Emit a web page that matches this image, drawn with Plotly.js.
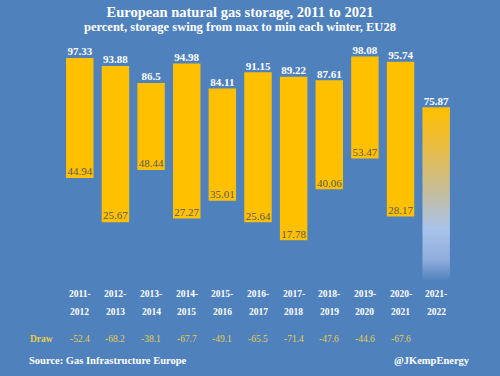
<!DOCTYPE html>
<html>
<head>
<meta charset="utf-8">
<script src="https://cdn.plot.ly/plotly-3.0.1.min.js"></script>
<style>html,body{margin:0;padding:0;background:#4F81BD;}#chart{width:500px;height:376px;}</style>
</head>
<body>
<div id="chart"></div>
<script>
// ---- data ----
var seasonTop = ["2011-","2012-","2013-","2014-","2015-","2016-","2017-","2018-","2019-","2020-","2021-"];
var seasonBottom = ["2012","2013","2014","2015","2016","2017","2018","2019","2020","2021","2022"];
var maxStorage = [97.33, 93.88, 86.5, 94.98, 84.11, 91.15, 89.22, 87.61, 98.08, 95.74];
var minStorage = [44.94, 25.67, 48.44, 27.27, 35.01, 25.64, 17.78, 40.06, 53.47, 28.17];
var drawLabels = ["-52.4","-68.2","-38.1","-67.7","-49.1","-65.5","-71.4","-47.6","-44.6","-67.6"];
var currentSeasonMax = 75.87;

// ---- styling ----
var BG = "#4F81BD";
var BAR = "#FFC000";
var SERIF = "Liberation Serif";
var BAR_W = 0.77;

var idx = seasonTop.map(function(_, i){ return i; });
var histIdx = maxStorage.map(function(_, i){ return i; });
var lastI = seasonTop.length - 1;

var traces = [];
// floating bars max->min
traces.push({
  type: "bar",
  x: histIdx,
  y: maxStorage.map(function(v, i){ return v - minStorage[i]; }),
  base: minStorage,
  width: BAR_W,
  marker: {color: BAR, line: {width: 0}},
  hoverinfo: "skip",
  showlegend: false
});
// gradient current-season bar
var h = BAR_W / 2;
traces.push({
  type: "scatter",
  mode: "lines",
  x: [lastI - h, lastI + h, lastI + h, lastI - h, lastI - h],
  y: [0, 0, currentSeasonMax, currentSeasonMax, 0],
  fill: "toself",
  line: {width: 0, color: "rgba(0,0,0,0)"},
  fillgradient: {
    type: "vertical",
    colorscale: [[0, BG], [0.12, "#8FACDB"], [0.3, "#A9C3EB"], [0.55, "#C9BC8E"], [0.8, "#EDBD3A"], [1, BAR]]
  },
  hoverinfo: "skip",
  showlegend: false
});
// max labels
traces.push({
  type: "scatter",
  mode: "text",
  x: idx,
  y: maxStorage.concat([currentSeasonMax]),
  text: maxStorage.concat([currentSeasonMax]).map(String),
  textposition: "top center",
  textfont: {family: SERIF, size: 11, color: "#FFFFFF", weight: "bold"},
  cliponaxis: false,
  hoverinfo: "skip",
  showlegend: false
});
// min labels
traces.push({
  type: "scatter",
  mode: "text",
  x: histIdx,
  y: minStorage,
  text: minStorage.map(String),
  textposition: "top center",
  textfont: {family: SERIF, size: 11, color: "#595959"},
  cliponaxis: false,
  hoverinfo: "skip",
  showlegend: false
});

var annotations = [];
idx.forEach(function(i){
  annotations.push({x: i, xref: "x", y: 294, yref: "paper", text: seasonTop[i], showarrow: false,
    font: {family: SERIF, size: 9.5, color: "#FFFFFF", weight: "bold"}, yanchor: "middle", xanchor: "center"});
  annotations.push({x: i, xref: "x", y: 312, yref: "paper", text: seasonBottom[i], showarrow: false,
    font: {family: SERIF, size: 9.5, color: "#FFFFFF", weight: "bold"}, yanchor: "middle", xanchor: "center"});
});
drawLabels.forEach(function(t, i){
  annotations.push({x: i, xref: "x", y: 339, yref: "paper", text: t, showarrow: false,
    font: {family: SERIF, size: 9.5, color: "#E6CF4B"}, yanchor: "middle", xanchor: "center"});
});
annotations.push({x: 41, xref: "pixel", y: 339, yref: "paper", text: "Draw", showarrow: false,
  font: {family: SERIF, size: 9.5, color: "#E6CF4B", weight: "bold"}, yanchor: "middle", xanchor: "center"});

// convert pixel y to paper coords
var T = 52, B = 95, H = 376;
var plotH = H - T - B;
annotations.forEach(function(a){
  a.y = (H - B - a.y) / plotH;
});
var L = 62, R = 46, W = 500, plotW = W - L - R;
annotations.forEach(function(a){
  if (a.xref === "pixel") { a.xref = "paper"; a.x = (a.x - L) / plotW; }
});

annotations.push({x: 27, y: 360, text: "Source: Gas Infrastructure Europe", xanchor: "left", align: "left",
  font: {family: SERIF, size: 10.5, color: "#FFFFFF", weight: "bold"}});
annotations.push({x: 472, y: 360, text: "@JKempEnergy", xanchor: "right", align: "right",
  font: {family: SERIF, size: 10.5, color: "#FFFFFF", weight: "bold"}});
annotations.push({x: 240, y: 27, text: "percent, storage swing from max to min each winter, EU28", xanchor: "center",
  font: {family: SERIF, size: 12.5, color: "#FFFFFF", weight: "bold"}});
annotations.forEach(function(a){
  if (a.xref === undefined) {
    a.xref = "paper"; a.yref = "paper"; a.showarrow = false; a.yanchor = "middle";
    a.x = (a.x - L) / plotW;
    a.y = (H - B - a.y) / plotH;
  }
});

var layout = {
  width: 500, height: 376,
  margin: {l: L, r: R, t: T, b: B, pad: 0},
  paper_bgcolor: BG, plot_bgcolor: BG,
  title: {text: "European natural gas storage, 2011 to 2021",
    font: {family: SERIF, size: 14.5, color: "#FFFFFF", weight: "bold"},
    x: 240 / 500, xanchor: "center", xref: "container", y: 1 - 12 / 376, yanchor: "middle", yref: "container"},
  xaxis: {range: [-0.5, lastI + 0.5], showgrid: false, zeroline: false, showline: false,
    tickvals: idx, ticktext: idx.map(function(){ return ""; }), ticks: "", fixedrange: true},
  yaxis: {range: [0, 100], showgrid: false, zeroline: false, showline: false, showticklabels: false, ticks: "", fixedrange: true},
  annotations: annotations,
  showlegend: false
};

Plotly.newPlot("chart", traces, layout, {displayModeBar: false, staticPlot: true});
</script>
</body>
</html>
